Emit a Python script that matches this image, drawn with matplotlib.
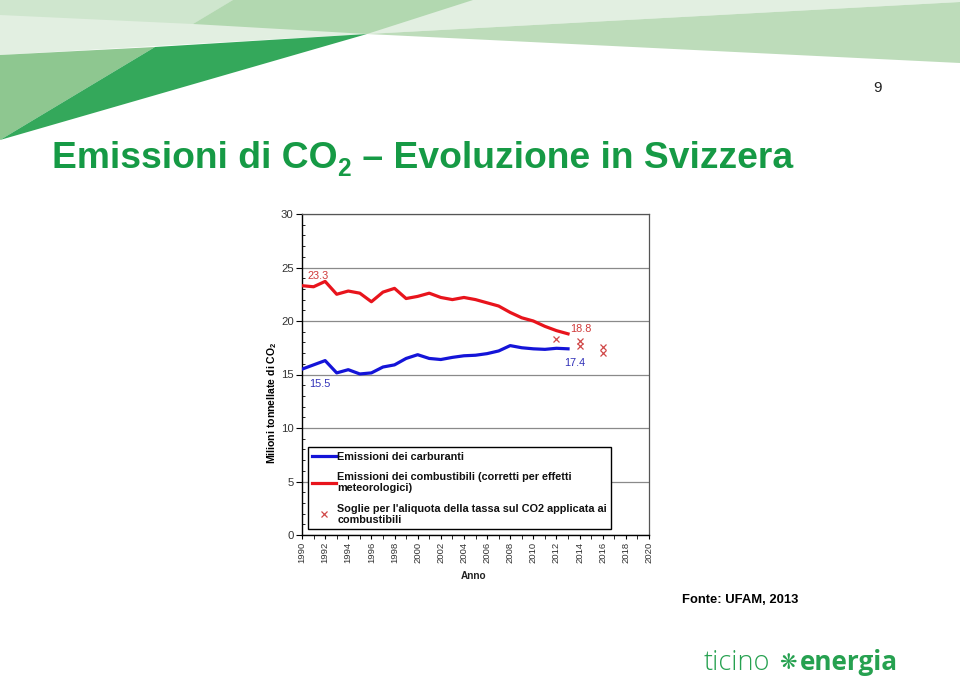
import matplotlib
matplotlib.use("Agg")
import matplotlib.pyplot as plt
from matplotlib.patches import Polygon
from matplotlib.lines import Line2D
from matplotlib.ticker import MultipleLocator

plt.rcParams['font.family'] = ['Liberation Sans', 'DejaVu Sans']
plt.rcParams['mathtext.default'] = 'regular'

# ---------------- data ----------------
years = list(range(1990, 2014))
combustibili = [23.3, 23.2, 23.7, 22.5, 22.8, 22.6, 21.8, 22.7, 23.05, 22.1,
                22.3, 22.6, 22.2, 22.0, 22.2, 22.0, 21.7, 21.4, 20.8, 20.3,
                20.0, 19.5, 19.1, 18.8]
carburanti = [15.5, 15.9, 16.3, 15.15, 15.45, 15.05, 15.15, 15.7, 15.9, 16.5,
              16.85, 16.5, 16.4, 16.6, 16.75, 16.8, 16.95, 17.2, 17.7, 17.5,
              17.4, 17.35, 17.45, 17.4]
soglie_anni = [2012, 2014, 2014, 2016, 2016]
soglie_valori = [18.35, 18.1, 17.65, 17.6, 17.0]
xticks = list(range(1990, 2021, 2))
yticks = [0, 5, 10, 15, 20, 25, 30]
legend_labels = ["Emissioni dei carburanti",
                 "Emissioni dei combustibili (corretti per effetti\nmeteorologici)",
                 "Soglie per l'aliquota della tassa sul CO2 applicata ai\ncombustibili"]

W, H = 960, 681
fig = plt.figure(figsize=(W / 100, H / 100), dpi=100)
fig.patch.set_facecolor('white')
renderer = fig.canvas.get_renderer()

# ---------------- slide decoration (pixel coords) ----------------
def px(pts):
    return [(x / W, 1 - y / H) for x, y in pts]

shapes = [
    ([(0, 0), (960, 0), (960, 2), (367, 34), (0, 55)], '#e2efe1'),
    ([(0, 0), (233, 0), (193, 24), (0, 15)], '#cfe6ce'),
    ([(233, 0), (473, 0), (367, 34), (193, 24)], '#b2d8b0'),
    ([(367, 34), (960, 2), (960, 63)], '#bddcba'),
    ([(0, 55), (155, 47), (0, 140)], '#8ec790'),
    ([(0, 140), (155, 47), (367, 34)], '#34a85b'),
]
for pts, col in shapes:
    fig.patches.append(Polygon(px(pts), closed=True, transform=fig.transFigure,
                               facecolor=col, edgecolor='none', zorder=0))

# title (three pieces so that the subscript 2 sits below the baseline)
title_col = '#169a45'
title_parts = ["Emissioni di CO", "2", " – Evoluzione in Svizzera"]


def place_title(fs):
    x0, base = 52.0, 168.0
    objs = []
    x = x0
    for i, part in enumerate(title_parts):
        sub = (i == 1)
        t = fig.text(x / W, 1 - (base + (8 if sub else 0)) / H, part,
                     fontsize=fs * (0.66 if sub else 1.0), fontweight='bold',
                     color=title_col, ha='left', va='baseline')
        bb = t.get_window_extent(renderer)
        x = bb.x1 + (1 if sub else 0)
        objs.append(t)
    return objs, x - x0


objs, wid = place_title(26)
for o in objs:
    o.remove()
objs, wid = place_title(26 * 740.0 / wid)

fig.text(878 / W, 1 - 88 / H, "9", fontsize=11, color='#222222', ha='center', va='center')
fig.text(682 / W, 1 - 600 / H, "Fonte: UFAM, 2013", fontsize=9.4, fontweight='bold',
         color='black', ha='left', va='center')

# logo
logo_col = '#26a150'
fig.text(704 / W, 1 - 670 / H, "ticino", fontsize=19.5, color=logo_col,
         family=['Open Sans', 'DejaVu Sans'], fontweight='light', ha='left', va='baseline')
fig.text(788 / W, 1 - 663 / H, "❋", fontsize=15, color=logo_col,
         family=['DejaVu Sans'], ha='center', va='center')
fig.text(800 / W, 1 - 670 / H, "energia", fontsize=18.8, color=logo_col,
         family=['Open Sans', 'DejaVu Sans'], fontweight='bold', ha='left', va='baseline')

# ---------------- chart ----------------
ax = fig.add_axes([302 / W, 1 - 535 / H, 347 / W, 321 / H])
ax.set_xlim(1990, 2020)
ax.set_ylim(0, 30)

red = '#e8141c'
blue = '#1414d8'
xred = '#d04848'

ax.plot(years, carburanti, color=blue, lw=2.3, solid_joinstyle='round', zorder=3)
ax.plot(years, combustibili, color=red, lw=2.3, solid_joinstyle='round', zorder=3)
ax.plot(soglie_anni, soglie_valori, linestyle='none', marker='x', ms=4.5,
        mew=0.9, color=xred, zorder=3)

ax.set_yticks(yticks)
ax.set_xticks(xticks)
ax.yaxis.set_minor_locator(MultipleLocator(1))
ax.xaxis.set_minor_locator(MultipleLocator(1))
ax.grid(axis='y', which='major', color='#8a8a8a', lw=0.9)
ax.set_axisbelow(True)
ax.tick_params(axis='y', which='major', direction='out', length=4, labelsize=8.2,
               labelcolor='#333333', pad=2)
ax.tick_params(axis='y', which='minor', direction='in', length=2.5)
ax.tick_params(axis='x', which='major', direction='out', length=3, labelsize=6.8,
               labelcolor='#333333', labelrotation=90, pad=2)
ax.tick_params(axis='x', which='minor', direction='out', length=3)
for s in ['left', 'bottom']:
    ax.spines[s].set_color('black')
    ax.spines[s].set_linewidth(1.0)
for s in ['top', 'right']:
    ax.spines[s].set_color('#555555')
    ax.spines[s].set_linewidth(0.9)

# value labels
ax.annotate(f"{combustibili[0]:.1f}", (years[0], combustibili[0]), xytext=(4, 7),
            textcoords='offset points', color='#d03a3a', fontsize=7.8, ha='left', va='center')
ax.annotate(f"{carburanti[0]:.1f}", (years[0], carburanti[0]), xytext=(5, -11),
            textcoords='offset points', color='#3030b8', fontsize=7.8, ha='left', va='center')
ax.annotate(f"{combustibili[-1]:.1f}", (years[-1], combustibili[-1]), xytext=(1.5, 3.5),
            textcoords='offset points', color='#d03a3a', fontsize=7.8, ha='left', va='center')
ax.annotate(f"{carburanti[-1]:.1f}", (years[-1], carburanti[-1]), xytext=(-3, -10),
            textcoords='offset points', color='#3030b8', fontsize=7.8, ha='left', va='center')

# legend
handles = [Line2D([], [], color=blue, lw=2.3),
           Line2D([], [], color=red, lw=2.3),
           Line2D([], [], color=xred, marker='x', linestyle='none', ms=4.5, mew=0.9)]
leg = ax.legend(handles, legend_labels, loc='lower left',
                bbox_to_anchor=(0.017, 0.019), fancybox=False, framealpha=1,
                edgecolor='black', fontsize=7.8, handlelength=2.2, handletextpad=0.1,
                labelspacing=1.0, borderpad=0.4, borderaxespad=0)
leg.get_frame().set_linewidth(1.0)
for t in leg.get_texts():
    t.set_fontweight('bold')
    t.set_color('#111111')
    t.set_linespacing(1.08)

# axis labels
fig.text(272 / W, 1 - 403 / H, "Milioni tonnellate di CO$_2$", rotation=90, fontsize=7.6,
         fontweight='bold', ha='center', va='center')
fig.text(474 / W, 1 - 576 / H, "Anno", fontsize=7.2, fontweight='bold',
         ha='center', va='center', color='#222222')

fig.savefig('out.png', dpi=100)
